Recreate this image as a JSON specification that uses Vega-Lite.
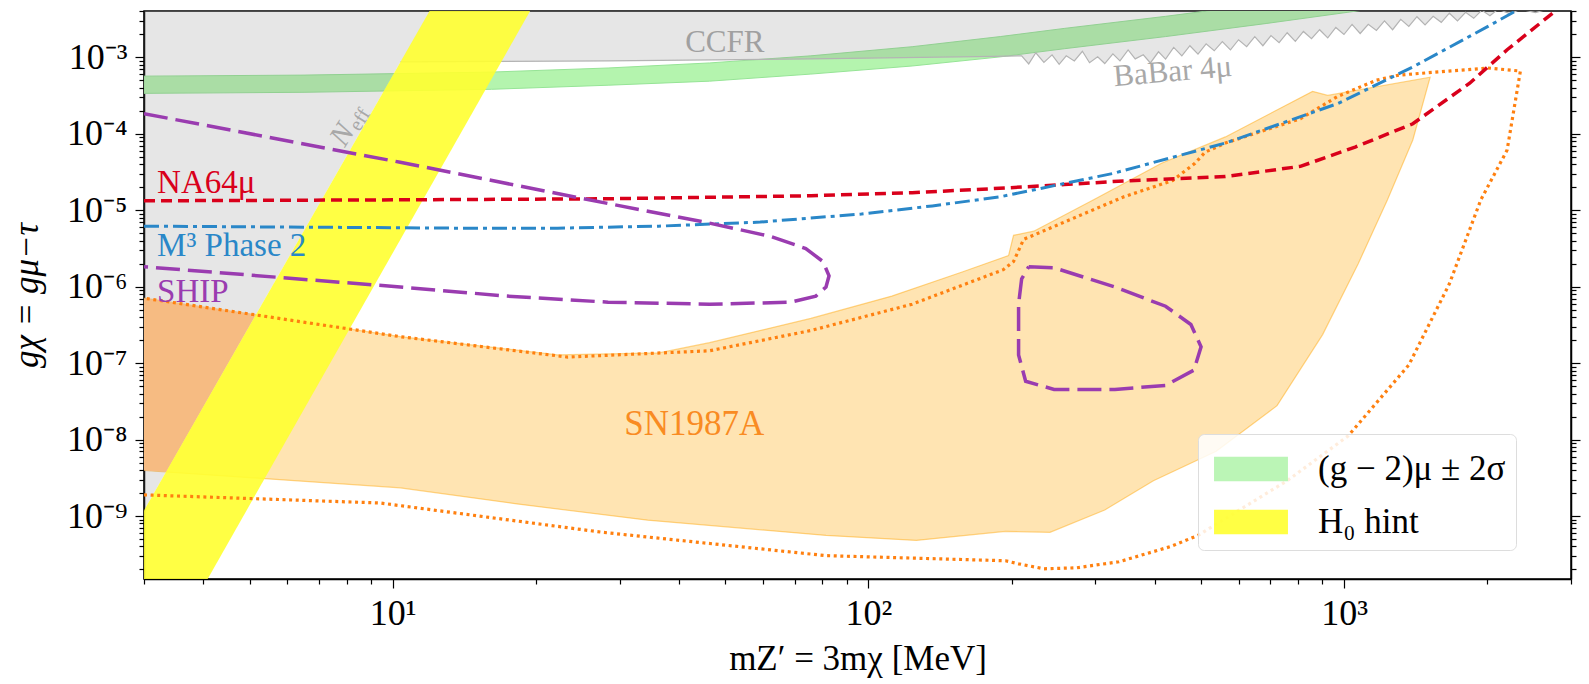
{
  "$schema": "https://vega.github.io/schema/vega-lite/v6.json",
  "width": 1427,
  "height": 568,
  "autosize": {"type": "none"},
  "padding": {"left": 144, "top": 11, "right": 18, "bottom": 105},
  "background": "white",
  "config": {
    "view": {"stroke": "black", "strokeWidth": 1.5},
    "font": "Liberation Serif",
    "axis": {"domainColor": "black", "domainWidth": 1.5, "tickColor": "black", "tickWidth": 1.2, "labelColor": "black", "labelFont": "Liberation Serif", "labelFontSize": 36, "titleFont": "Liberation Serif", "titleFontSize": 35, "titleFontWeight": "normal", "titleColor": "black", "grid": false, "labelOverlap": false}
  },
  "resolve": {"scale": {"y": "shared", "x": "shared"}, "axis": {"y": "independent", "x": "shared"}},
  "datasets": {
    "sn_fill": [
      {"i":1,"x":3.0,"y":7.08e-7},{"i":2,"x":10.37,"y":2.22e-7},{"i":3,"x":22.2,"y":1.28e-7},{"i":4,"x":36.25,"y":1.36e-7},
      {"i":5,"x":46.34,"y":1.85e-7},{"i":6,"x":75.68,"y":3.85e-7},{"i":7,"x":112.0,"y":7.53e-7},{"i":8,"x":158.0,"y":1.57e-6},
      {"i":9,"x":197.1,"y":2.55e-6},{"i":10,"x":201.9,"y":4.70e-6},{"i":11,"x":222.7,"y":5.32e-6},{"i":12,"x":297.5,"y":1.37e-5},
      {"i":13,"x":413.3,"y":4.11e-5},{"i":14,"x":563.0,"y":9.10e-5},{"i":15,"x":858.6,"y":3.59e-4},{"i":16,"x":924.1,"y":3.18e-4},
      {"i":17,"x":1517,"y":5.51e-4},{"i":18,"x":1395,"y":8.30e-5},{"i":19,"x":1234,"y":1.37e-5},{"i":20,"x":1071,"y":2.00e-6},
      {"i":21,"x":901.6,"y":2.36e-7},{"i":22,"x":723.0,"y":2.78e-8},{"i":23,"x":538.7,"y":7.04e-9},{"i":24,"x":397.4,"y":2.90e-9},
      {"i":25,"x":314.0,"y":1.20e-9},{"i":26,"x":240.9,"y":6.11e-10},{"i":27,"x":194.2,"y":6.30e-10},{"i":28,"x":126.1,"y":4.79e-10},
      {"i":29,"x":81.45,"y":5.58e-10},{"i":30,"x":34.35,"y":8.82e-10},{"i":31,"x":18.24,"y":1.44e-9},{"i":32,"x":10.37,"y":2.34e-9},
      {"i":33,"x":3.0,"y":3.94e-9}
    ],
    "sn_dotted": [
      {"i":1,"x":3.0,"y":1.89e-9},{"i":2,"x":9.41,"y":1.48e-9},{"i":3,"x":27.68,"y":6.11e-10},{"i":4,"x":81.45,"y":3.03e-10},
      {"i":5,"x":194.2,"y":2.60e-10},{"i":6,"x":206.9,"y":2.37e-10},{"i":7,"x":233.9,"y":2.04e-10},{"i":8,"x":273.6,"y":2.10e-10},
      {"i":9,"x":336.3,"y":2.52e-10},{"i":10,"x":432.0,"y":3.99e-10},{"i":11,"x":493.1,"y":5.58e-10},{"i":12,"x":759.4,"y":2.90e-9},
      {"i":13,"x":1019,"y":1.11e-8},{"i":14,"x":1368,"y":9.44e-8},{"i":15,"x":1665,"y":1.09e-6},{"i":16,"x":1939,"y":1.37e-5},
      {"i":17,"x":2202,"y":6.12e-5},{"i":18,"x":2348,"y":6.62e-4},{"i":19,"x":2007,"y":7.26e-4},{"i":20,"x":1303,"y":5.86e-4},
      {"i":21,"x":1170,"y":5.03e-4},{"i":22,"x":970.5,"y":3.09e-4},{"i":23,"x":809.5,"y":1.576e-4},{"i":24,"x":563.0,"y":7.57e-5},
      {"i":25,"x":510.5,"y":5.75e-5},{"i":26,"x":485.9,"y":4.11e-5},{"i":27,"x":436.3,"y":2.45e-5},{"i":28,"x":344.6,"y":1.50e-5},
      {"i":29,"x":212.0,"y":4.16e-6},{"i":30,"x":201.9,"y":2.13e-6},{"i":31,"x":192.2,"y":1.67e-6},{"i":32,"x":123.6,"y":5.90e-7},
      {"i":33,"x":75.68,"y":2.67e-7},{"i":34,"x":46.34,"y":1.45e-7},{"i":35,"x":23.32,"y":1.20e-7},{"i":36,"x":10.37,"y":2.22e-7},
      {"i":37,"x":3.0,"y":7.08e-7}
    ],
    "green": [
      {"x":3.0,"lo":3.38e-4,"hi":5.68e-4},{"x":6.51,"lo":3.49e-4,"hi":5.86e-4},{"x":16.14,"lo":3.82e-4,"hi":6.42e-4},
      {"x":28.37,"lo":4.32e-4,"hi":7.26e-4},{"x":46.34,"lo":4.88e-4,"hi":8.45e-4},{"x":75.68,"lo":6.04e-4,"hi":1.047e-3},
      {"x":123.6,"lo":7.71e-4,"hi":1.378e-3},{"x":189.4,"lo":1.015e-3,"hi":1.87e-3},{"x":258.0,"lo":1.296e-3,"hi":2.39e-3},
      {"x":421.5,"lo":1.87e-3,"hi":3.44e-3},{"x":688.3,"lo":2.78e-3,"hi":5.12e-3},{"x":1019,"lo":3.89e-3,"hi":7.17e-3},
      {"x":1437,"lo":5.28e-3,"hi":9.73e-3}
    ],
    "gray_poly": [
      {"i":1,"x":1.0,"y":1e-10},{"i":2,"x":2.391,"y":1e-10},{"i":3,"x":10.38,"y":8.72e-4},{"i":4,"x":28.37,"y":8.99e-4},
      {"i":5,"x":75.68,"y":9.55e-4},{"i":6,"x":185,"y":1.03e-3},{"i":7,"x":210.0,"y":1.047e-3},{"i":8,"x":217.3,"y":8.2e-4},
      {"i":9,"x":224.9,"y":1.147e-3},{"i":10,"x":233.9,"y":8.6e-4},{"i":11,"x":243.3,"y":1.079e-3},{"i":12,"x":251.8,"y":8.1e-4},
      {"i":13,"x":260.6,"y":1.047e-3},{"i":14,"x":271.0,"y":8.99e-4},{"i":15,"x":281.8,"y":1.2e-3},{"i":16,"x":291.7,"y":8.5e-4},
      {"i":17,"x":303.4,"y":1.015e-3},{"i":18,"x":314.0,"y":8.3e-4},{"i":19,"x":326.6,"y":1.113e-3},{"i":20,"x":338.0,"y":8.99e-4},
      {"i":21,"x":351.6,"y":1.25e-3},{"i":22,"x":363.9,"y":9.55e-4},{"i":23,"x":378.4,"y":1.079e-3},{"i":24,"x":391.6,"y":8.45e-4},
      {"i":25,"x":407.3,"y":1.183e-3},{"i":26,"x":421.5,"y":9.5e-4},{"i":27,"x":438.4,"y":1.35e-3},{"i":28,"x":456.0,"y":1.047e-3},
      {"i":29,"x":474.2,"y":1.42e-3},{"i":30,"x":493.1,"y":1.1e-3},{"i":31,"x":512.9,"y":1.5e-3},{"i":32,"x":533.4,"y":1.219e-3},
      {"i":33,"x":554.8,"y":1.606e-3},{"i":34,"x":577.0,"y":1.25e-3},{"i":35,"x":600.1,"y":1.7e-3},{"i":36,"x":624.1,"y":1.378e-3},
      {"i":37,"x":649.1,"y":1.87e-3},{"i":38,"x":675.1,"y":1.42e-3},{"i":39,"x":702.1,"y":1.93e-3},{"i":40,"x":730.2,"y":1.557e-3},
      {"i":41,"x":759.4,"y":2.1e-3},{"i":42,"x":789.9,"y":1.62e-3},{"i":43,"x":821.5,"y":2.18e-3},{"i":44,"x":854.3,"y":1.76e-3},
      {"i":45,"x":888.5,"y":2.3e-3},{"i":46,"x":924.1,"y":1.8e-3},{"i":47,"x":961.0,"y":2.46e-3},{"i":48,"x":999.5,"y":1.99e-3},
      {"i":49,"x":1039.5,"y":2.7e-3},{"i":50,"x":1081.1,"y":2.05e-3},{"i":51,"x":1124.4,"y":2.70e-3},{"i":52,"x":1169.5,"y":2.25e-3},
      {"i":53,"x":1216.2,"y":3.0e-3},{"i":54,"x":1265.0,"y":2.3e-3},{"i":55,"x":1315.6,"y":3.14e-3},{"i":56,"x":1368.3,"y":2.54e-3},
      {"i":57,"x":1423.1,"y":3.4e-3},{"i":58,"x":1480.1,"y":2.65e-3},{"i":59,"x":1539.3,"y":3.44e-3},{"i":60,"x":1601.0,"y":2.87e-3},
      {"i":61,"x":1665.1,"y":3.78e-3},{"i":62,"x":1731.8,"y":3.0e-3},{"i":63,"x":1801.2,"y":3.89e-3},{"i":64,"x":1873.2,"y":3.24e-3},
      {"i":65,"x":1948.3,"y":4.14e-3},{"i":66,"x":2026.3,"y":3.5e-3},{"i":67,"x":2107.5,"y":4.27e-3},{"i":68,"x":2235.4,"y":3.7e-3},
      {"i":69,"x":2348,"y":4.27e-3},{"i":70,"x":2526,"y":3.85e-3},{"i":71,"x":2719,"y":4.40e-3},{"i":72,"x":2787,"y":5.61e-3},
      {"i":73,"x":5000,"y":5.61e-3},{"i":74,"x":5000,"y":1e-2},{"i":75,"x":1.0,"y":1e-2}
    ],
    "patch": [
      {"x":3.0,"lo":3.94e-9,"hi":7.08e-7},{"x":3.34,"lo":3.78e-9,"hi":6.4e-7},{"x":5.15,"lo":4.28e-7,"hi":4.28e-7}
    ],
    "yellow": [
      {"y":1e-10,"lo":2.391,"hi":3.934},{"y":5e-3,"lo":12.19,"hi":19.83}
    ],
    "na64": [
      {"x":3.0,"y":1.328e-5},{"x":10.63,"y":1.37e-5},{"x":28.37,"y":1.412e-5},{"x":75.68,"y":1.548e-5},{"x":123.6,"y":1.696e-5},
      {"x":183.0,"y":1.917e-5},{"x":258.0,"y":2.165e-5},{"x":326.6,"y":2.373e-5},{"x":563.0,"y":2.764e-5},{"x":809.5,"y":3.75e-5},
      {"x":1055,"y":6.70e-5},{"x":1395,"y":1.353e-4},{"x":1837,"y":4.59e-4},{"x":2202,"y":1.257e-3},{"x":2760,"y":3.89e-3},{"x":2850,"y":4.6e-3}
    ],
    "m3": [
      {"x":3.0,"y":6.19e-6},{"x":6.51,"y":6.01e-6},{"x":13.59,"y":5.83e-6},{"x":22.2,"y":5.83e-6},{"x":36.25,"y":6.19e-6},
      {"x":59.23,"y":7.00e-6},{"x":96.7,"y":8.93e-6},{"x":136.3,"y":1.14e-5},{"x":189.4,"y":1.50e-5},{"x":326.6,"y":3.03e-5},
      {"x":563.0,"y":7.57e-5},{"x":970.5,"y":2.49e-4},{"x":1395,"y":7.48e-4},{"x":2007,"y":2.54e-3},{"x":2290,"y":4.01e-3},{"x":2400,"y":4.8e-3}
    ],
    "ship": [
      {"part":"a","i":1,"x":3.0,"y":1.836e-4},{"part":"a","i":2,"x":10.37,"y":4.24e-5},{"part":"a","i":3,"x":25.22,"y":1.412e-5},
      {"part":"a","i":4,"x":46.34,"y":6.79e-6},{"part":"a","i":5,"x":62.2,"y":4.56e-6},{"part":"a","i":6,"x":73.85,"y":3.16e-6},
      {"part":"a","i":7,"x":80.27,"y":2.13e-6},{"part":"a","i":8,"x":82.66,"y":1.387e-6},{"part":"a","i":9,"x":81.45,"y":9.91e-7},
      {"part":"a","i":10,"x":77.54,"y":7.53e-7},{"part":"a","i":11,"x":68.62,"y":6.27e-7},{"part":"a","i":12,"x":46.34,"y":5.90e-7},
      {"part":"a","i":13,"x":28.37,"y":6.27e-7},{"part":"a","i":14,"x":17.37,"y":7.53e-7},{"part":"a","i":15,"x":10.37,"y":9.91e-7},
      {"part":"a","i":16,"x":3.0,"y":1.825e-6},
      {"part":"b","i":1,"x":217.3,"y":1.825e-6},{"part":"b","i":2,"x":245.7,"y":1.77e-6},{"part":"b","i":3,"x":329.8,"y":9.91e-7},
      {"part":"b","i":4,"x":421.5,"y":5.55e-7},{"part":"b","i":5,"x":476.4,"y":3.20e-7},{"part":"b","i":6,"x":500.5,"y":1.635e-7},
      {"part":"b","i":7,"x":483.4,"y":8.10e-8},{"part":"b","i":8,"x":421.5,"y":5.12e-8},{"part":"b","i":9,"x":329.8,"y":4.53e-8},
      {"part":"b","i":10,"x":245.7,"y":4.53e-8},{"part":"b","i":11,"x":214.1,"y":5.79e-8},{"part":"b","i":12,"x":206.9,"y":1.28e-7},
      {"part":"b","i":13,"x":206.9,"y":5.90e-7},{"part":"b","i":14,"x":210.0,"y":1.265e-6},{"part":"b","i":15,"x":217.3,"y":1.825e-6}
    ]
  },
  "layer": [
    {
      "data": {"name": "sn_fill"},
      "mark": {"type": "line", "interpolate": "linear-closed", "fill": "#ffa500", "fillOpacity": 0.3, "stroke": "#ffa500", "strokeOpacity": 0.45, "strokeWidth": 1.2, "clip": true},
      "encoding": {
        "x": {"field": "x", "type": "quantitative", "scale": {"type": "log", "domain": [3, 3000], "nice": false},
          "axis": {"title": "mZ′ = 3mχ [MeV]", "orient": "bottom", "values": [3,4,5,6,7,8,9,10,20,30,40,50,60,70,80,90,100,200,300,400,500,600,700,800,900,1000,2000,3000],
            "labelExpr": "abs(log(datum.value)/LN10-round(log(datum.value)/LN10))<0.001 ? '10'+['⁰','¹','²','³','⁴'][round(log(datum.value)/LN10)] : ''",
            "tickSize": {"condition": {"test": "abs(log(datum.value)/LN10-round(log(datum.value)/LN10))<0.001", "value": 9}, "value": 5},
            "labelPadding": 8, "titlePadding": 10}},
        "y": {"field": "y", "type": "quantitative", "scale": {"type": "log", "domain": [1.5e-10, 4.04e-3], "nice": false},
          "axis": {"title": "gχ = gμ−τ", "titleFontStyle": "italic", "orient": "left", "values": [2e-10,3e-10,4e-10,5e-10,6e-10,7e-10,8e-10,9e-10,1e-9,2e-9,3e-9,4e-9,5e-9,6e-9,7e-9,8e-9,9e-9,1e-8,2e-8,3e-8,4e-8,5e-8,6e-8,7e-8,8e-8,9e-8,1e-7,2e-7,3e-7,4e-7,5e-7,6e-7,7e-7,8e-7,9e-7,1e-6,2e-6,3e-6,4e-6,5e-6,6e-6,7e-6,8e-6,9e-6,1e-5,2e-5,3e-5,4e-5,5e-5,6e-5,7e-5,8e-5,9e-5,1e-4,2e-4,3e-4,4e-4,5e-4,6e-4,7e-4,8e-4,9e-4,1e-3,2e-3,3e-3,4e-3],
            "labelExpr": "abs(log(datum.value)/LN10-round(log(datum.value)/LN10))<0.001 ? '10'+['⁻¹⁰','⁻⁹','⁻⁸','⁻⁷','⁻⁶','⁻⁵','⁻⁴','⁻³','⁻²'][round(log(datum.value)/LN10)+10] : ''",
            "tickSize": {"condition": {"test": "abs(log(datum.value)/LN10-round(log(datum.value)/LN10))<0.001", "value": 9}, "value": 5},
            "labelPadding": 8, "titlePadding": 22}},
        "order": {"field": "i"}
      }
    },
    {
      "data": {"name": "green"},
      "mark": {"type": "area", "stroke": "#96e496", "strokeWidth": 1, "clip": true},
      "encoding": {
        "x": {"field": "x", "type": "quantitative", "scale": {"type": "log", "domain": [3, 3000], "nice": false}},
        "y": {"field": "lo", "type": "quantitative", "scale": {"type": "log", "domain": [1.5e-10, 4.04e-3], "nice": false}, "axis": null},
        "y2": {"field": "hi"},
        "fill": {"datum": "(g − 2)μ ± 2σ", "type": "nominal",
          "scale": {"domain": ["(g − 2)μ ± 2σ", "H₀ hint"], "range": ["#b4f4ae", "#ffff30"]},
          "legend": {"orient": "none", "legendX": 1054, "legendY": 423, "title": null, "direction": "vertical",
            "symbolType": "M-1.5,-0.5L1.5,-0.5L1.5,0.5L-1.5,0.5Z", "symbolSize": 2430, "symbolStrokeWidth": 0, "symbolOpacity": 0.9, "symbolOffset": 18,
            "labelFont": "Liberation Serif", "labelFontSize": 35, "labelColor": "black", "labelOffset": 42, "labelLimit": 400,
            "rowPadding": 10, "padding": 10, "fillColor": "rgba(255,255,255,0.85)", "strokeColor": "#dddddd", "cornerRadius": 6}}
      }
    },
    {
      "data": {"name": "gray_poly"},
      "mark": {"type": "line", "interpolate": "linear-closed", "fill": "#808080", "fillOpacity": 0.2, "strokeWidth": 0, "strokeOpacity": 0, "clip": true},
      "encoding": {
        "x": {"field": "x", "type": "quantitative", "scale": {"type": "log", "domain": [3, 3000], "nice": false}},
        "y": {"field": "y", "type": "quantitative", "scale": {"type": "log", "domain": [1.5e-10, 4.04e-3], "nice": false}, "axis": null},
        "order": {"field": "i"}
      }
    },
    {
      "data": {"name": "gray_poly"},
      "transform": [{"filter": "datum.i >= 3 && datum.i <= 72"}],
      "mark": {"type": "line", "stroke": "#b4b4b4", "strokeWidth": 1.2, "clip": true},
      "encoding": {
        "x": {"field": "x", "type": "quantitative", "scale": {"type": "log", "domain": [3, 3000], "nice": false}},
        "y": {"field": "y", "type": "quantitative", "scale": {"type": "log", "domain": [1.5e-10, 4.04e-3], "nice": false}, "axis": null},
        "order": {"field": "i"}
      }
    },
    {
      "data": {"name": "patch"},
      "mark": {"type": "area", "fill": "#f6bb82", "clip": true},
      "encoding": {
        "x": {"field": "x", "type": "quantitative", "scale": {"type": "log", "domain": [3, 3000], "nice": false}},
        "y": {"field": "lo", "type": "quantitative", "scale": {"type": "log", "domain": [1.5e-10, 4.04e-3], "nice": false}, "axis": null},
        "y2": {"field": "hi"}
      }
    },
    {
      "data": {"name": "yellow"},
      "mark": {"type": "area", "orient": "horizontal", "opacity": 0.9, "clip": true},
      "encoding": {
        "y": {"field": "y", "type": "quantitative", "scale": {"type": "log", "domain": [1.5e-10, 4.04e-3], "nice": false}, "axis": null},
        "x": {"field": "lo", "type": "quantitative", "scale": {"type": "log", "domain": [3, 3000], "nice": false}},
        "x2": {"field": "hi"},
        "fill": {"datum": "H₀ hint", "type": "nominal",
          "scale": {"domain": ["(g − 2)μ ± 2σ", "H₀ hint"], "range": ["#b4f4ae", "#ffff30"]},
          "legend": {"orient": "none", "legendX": 1054, "legendY": 423, "title": null, "direction": "vertical",
            "symbolType": "M-1.5,-0.5L1.5,-0.5L1.5,0.5L-1.5,0.5Z", "symbolSize": 2430, "symbolStrokeWidth": 0, "symbolOpacity": 0.9, "symbolOffset": 18,
            "labelFont": "Liberation Serif", "labelFontSize": 35, "labelColor": "black", "labelOffset": 42, "labelLimit": 400,
            "rowPadding": 10, "padding": 10, "fillColor": "rgba(255,255,255,0.85)", "strokeColor": "#dddddd", "cornerRadius": 6}}
      }
    },
    {
      "data": {"name": "sn_dotted"},
      "mark": {"type": "line", "stroke": "#ff8010", "strokeWidth": 3.2, "strokeDash": [3, 3.6], "clip": true},
      "encoding": {
        "x": {"field": "x", "type": "quantitative", "scale": {"type": "log", "domain": [3, 3000], "nice": false}},
        "y": {"field": "y", "type": "quantitative", "scale": {"type": "log", "domain": [1.5e-10, 4.04e-3], "nice": false}, "axis": null},
        "order": {"field": "i"}
      }
    },
    {
      "data": {"name": "na64"},
      "mark": {"type": "line", "stroke": "#d9001b", "strokeWidth": 3.5, "strokeDash": [11, 6], "clip": true},
      "encoding": {
        "x": {"field": "x", "type": "quantitative", "scale": {"type": "log", "domain": [3, 3000], "nice": false}},
        "y": {"field": "y", "type": "quantitative", "scale": {"type": "log", "domain": [1.5e-10, 4.04e-3], "nice": false},
          "axis": {"orient": "right", "title": null, "labels": false, "values": [2e-10,3e-10,4e-10,5e-10,6e-10,7e-10,8e-10,9e-10,1e-9,2e-9,3e-9,4e-9,5e-9,6e-9,7e-9,8e-9,9e-9,1e-8,2e-8,3e-8,4e-8,5e-8,6e-8,7e-8,8e-8,9e-8,1e-7,2e-7,3e-7,4e-7,5e-7,6e-7,7e-7,8e-7,9e-7,1e-6,2e-6,3e-6,4e-6,5e-6,6e-6,7e-6,8e-6,9e-6,1e-5,2e-5,3e-5,4e-5,5e-5,6e-5,7e-5,8e-5,9e-5,1e-4,2e-4,3e-4,4e-4,5e-4,6e-4,7e-4,8e-4,9e-4,1e-3,2e-3,3e-3,4e-3],
            "tickSize": {"condition": {"test": "abs(log(datum.value)/LN10-round(log(datum.value)/LN10))<0.001", "value": 9}, "value": 5}}}
      }
    },
    {
      "data": {"name": "m3"},
      "mark": {"type": "line", "stroke": "#2a87c8", "strokeWidth": 3, "strokeDash": [15, 5, 4, 5], "clip": true},
      "encoding": {
        "x": {"field": "x", "type": "quantitative", "scale": {"type": "log", "domain": [3, 3000], "nice": false}},
        "y": {"field": "y", "type": "quantitative", "scale": {"type": "log", "domain": [1.5e-10, 4.04e-3], "nice": false}, "axis": null}
      }
    },
    {
      "data": {"name": "ship"},
      "mark": {"type": "line", "stroke": "#9a3cb0", "strokeWidth": 3.5, "strokeDash": [24, 8], "clip": true},
      "encoding": {
        "x": {"field": "x", "type": "quantitative", "scale": {"type": "log", "domain": [3, 3000], "nice": false}},
        "y": {"field": "y", "type": "quantitative", "scale": {"type": "log", "domain": [1.5e-10, 4.04e-3], "nice": false}, "axis": null},
        "detail": {"field": "part"},
        "order": {"field": "i"}
      }
    },
    {
      "data": {"values": [{"x": 49.9, "y": 1.557e-3, "text": "CCFR"}]},
      "mark": {"type": "text", "font": "Liberation Serif", "fontSize": 31, "color": "#a0a0a0", "align": "center", "baseline": "middle"},
      "encoding": {
        "x": {"field": "x", "type": "quantitative", "scale": {"type": "log", "domain": [3, 3000], "nice": false}},
        "y": {"field": "y", "type": "quantitative", "scale": {"type": "log", "domain": [1.5e-10, 4.04e-3], "nice": false}, "axis": null},
        "text": {"field": "text"}
      }
    },
    {
      "data": {"values": [{"x": 436.3, "y": 6.42e-4, "text": "BaBar 4μ"}]},
      "mark": {"type": "text", "font": "Liberation Serif", "fontSize": 31, "color": "#a8a8a8", "align": "center", "baseline": "middle", "angle": 355},
      "encoding": {
        "x": {"field": "x", "type": "quantitative", "scale": {"type": "log", "domain": [3, 3000], "nice": false}},
        "y": {"field": "y", "type": "quantitative", "scale": {"type": "log", "domain": [1.5e-10, 4.04e-3], "nice": false}, "axis": null},
        "text": {"field": "text"}
      }
    },
    {
      "data": {"values": [{"x": 7.64, "y": 7.55e-5, "text": "N"}]},
      "mark": {"type": "text", "font": "Liberation Serif", "fontSize": 30, "fontStyle": "italic", "color": "#a8a8a8", "align": "left", "baseline": "middle", "angle": 302},
      "encoding": {
        "x": {"field": "x", "type": "quantitative", "scale": {"type": "log", "domain": [3, 3000], "nice": false}},
        "y": {"field": "y", "type": "quantitative", "scale": {"type": "log", "domain": [1.5e-10, 4.04e-3], "nice": false}, "axis": null},
        "text": {"field": "text"}
      }
    },
    {
      "data": {"values": [{"x": 7.64, "y": 7.55e-5, "text": "eff"}]},
      "mark": {"type": "text", "font": "Liberation Serif", "fontSize": 20, "color": "#a8a8a8", "align": "left", "baseline": "middle", "angle": 302, "dx": 21, "dy": 7},
      "encoding": {
        "x": {"field": "x", "type": "quantitative", "scale": {"type": "log", "domain": [3, 3000], "nice": false}},
        "y": {"field": "y", "type": "quantitative", "scale": {"type": "log", "domain": [1.5e-10, 4.04e-3], "nice": false}, "axis": null},
        "text": {"field": "text"}
      }
    },
    {
      "data": {"values": [{"x": 3.196, "y": 1.696e-5, "text": "NA64μ"}]},
      "mark": {"type": "text", "font": "Liberation Serif", "fontSize": 33, "color": "#d9001b", "align": "left", "baseline": "alphabetic"},
      "encoding": {
        "x": {"field": "x", "type": "quantitative", "scale": {"type": "log", "domain": [3, 3000], "nice": false}},
        "y": {"field": "y", "type": "quantitative", "scale": {"type": "log", "domain": [1.5e-10, 4.04e-3], "nice": false}, "axis": null},
        "text": {"field": "text"}
      }
    },
    {
      "data": {"values": [{"x": 3.196, "y": 2.55e-6, "text": "M³ Phase 2"}]},
      "mark": {"type": "text", "font": "Liberation Serif", "fontSize": 33, "color": "#2a87c8", "align": "left", "baseline": "alphabetic"},
      "encoding": {
        "x": {"field": "x", "type": "quantitative", "scale": {"type": "log", "domain": [3, 3000], "nice": false}},
        "y": {"field": "y", "type": "quantitative", "scale": {"type": "log", "domain": [1.5e-10, 4.04e-3], "nice": false}, "axis": null},
        "text": {"field": "text"}
      }
    },
    {
      "data": {"values": [{"x": 3.196, "y": 6.27e-7, "text": "SHIP"}]},
      "mark": {"type": "text", "font": "Liberation Serif", "fontSize": 33, "color": "#9a3cb0", "align": "left", "baseline": "alphabetic"},
      "encoding": {
        "x": {"field": "x", "type": "quantitative", "scale": {"type": "log", "domain": [3, 3000], "nice": false}},
        "y": {"field": "y", "type": "quantitative", "scale": {"type": "log", "domain": [1.5e-10, 4.04e-3], "nice": false}, "axis": null},
        "text": {"field": "text"}
      }
    },
    {
      "data": {"values": [{"x": 43.05, "y": 1.606e-8, "text": "SN1987A"}]},
      "mark": {"type": "text", "font": "Liberation Serif", "fontSize": 35, "color": "#f98b22", "align": "center", "baseline": "middle"},
      "encoding": {
        "x": {"field": "x", "type": "quantitative", "scale": {"type": "log", "domain": [3, 3000], "nice": false}},
        "y": {"field": "y", "type": "quantitative", "scale": {"type": "log", "domain": [1.5e-10, 4.04e-3], "nice": false}, "axis": null},
        "text": {"field": "text"}
      }
    }
  ]
}
